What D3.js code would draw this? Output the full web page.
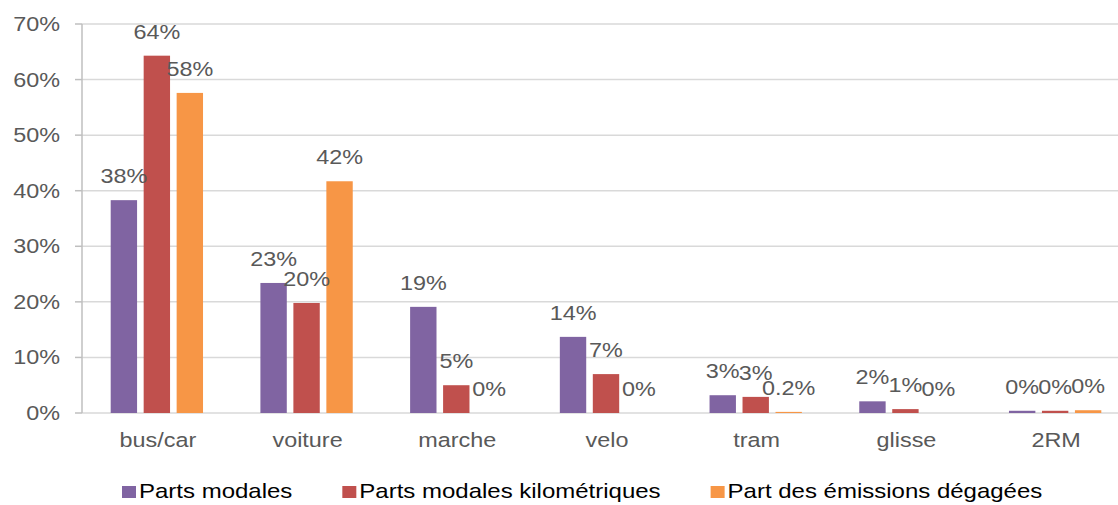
<!DOCTYPE html>
<html>
<head>
<meta charset="utf-8">
<script src="https://cdn.jsdelivr.net/npm/d3@7"></script>
<style>
  body { margin: 0; background: #fff; }
  svg { display: block; font-family: "Liberation Sans", Arial, sans-serif; }
</style>
</head>
<body>
<svg id="chart" width="1118" height="505"></svg>
<script>
// chart data
const categories = ["bus/car", "voiture", "marche", "velo", "tram", "glisse", "2RM"];
const seriesNames = ["Parts modales", "Parts modales kilométriques", "Part des émissions dégagées"];
const partsModales = [0.383, 0.234, 0.191, 0.137, 0.032, 0.021, 0.004];
const partsKm = [0.643, 0.198, 0.050, 0.070, 0.029, 0.007, 0.004];
const partEmissions = [0.576, 0.417, 0.000, 0.000, 0.002, 0.000, 0.005];
const valueLabels = [
  ["38%", "23%", "19%", "14%", "3%", "2%", "0%"],
  ["64%", "20%", "5%", "7%", "3%", "1%", "0%"],
  ["58%", "42%", "0%", "0%", "0.2%", "0%", "0%"]
];
const yTicks = [0, 0.1, 0.2, 0.3, 0.4, 0.5, 0.6, 0.7];
const colors = ["#8064A2", "#C0504D", "#F79646"];

const allSeries = [partsModales, partsKm, partEmissions];
const sx = 1.2; // horizontal stretch of the original picture
const svg = d3.select("#chart");

const x0 = d3.scaleBand().domain(categories).range([82, 1130]).padding(0);
const x1 = d3.scaleBand().domain(d3.range(3)).range([0, x0.bandwidth()])
  .paddingInner(0.2).paddingOuter(0.87);
const y = d3.scaleLinear().domain([0, 0.7]).range([413, 24]);

function stretchedText(g, x, yy, txt, anchor) {
  return g.append("text")
    .attr("transform", `translate(${x},${yy}) scale(${sx},1)`)
    .attr("text-anchor", anchor)
    .text(txt);
}

// gridlines
svg.append("g").selectAll("line").data(yTicks).enter().append("line")
  .attr("x1", 82).attr("x2", 1118)
  .attr("y1", d => y(d)).attr("y2", d => y(d))
  .attr("stroke", "#d9d9d9").attr("stroke-width", 1.5);

// y axis line + ticks
svg.append("line").attr("x1", 82).attr("x2", 82).attr("y1", y(0.7)).attr("y2", y(0))
  .attr("stroke", "#bfbfbf").attr("stroke-width", 1.5);
svg.append("g").selectAll("line").data(yTicks).enter().append("line")
  .attr("x1", 75).attr("x2", 82)
  .attr("y1", d => y(d)).attr("y2", d => y(d))
  .attr("stroke", "#bfbfbf").attr("stroke-width", 1.5);

const yLab = svg.append("g").attr("fill", "#595959").attr("font-size", 19.5);
yTicks.forEach(t => stretchedText(yLab, 60, y(t) + 7, d3.format(".0%")(t), "end"));

// category labels
const xLab = svg.append("g").attr("fill", "#595959").attr("font-size", 19.5);
categories.forEach(c => stretchedText(xLab, x0(c) + x0.bandwidth() / 2 + 1, 447, c, "middle"));

// bars
allSeries.forEach((vals, s) => {
  svg.append("g").selectAll("rect").data(vals).enter().append("rect")
    .attr("x", (d, i) => x0(categories[i]) + x1(s))
    .attr("width", x1.bandwidth())
    .attr("y", d => y(d))
    .attr("height", d => y(0) - y(d))
    .attr("fill", colors[s]);
});

// data labels
const dLab = svg.append("g").attr("fill", "#595959").attr("font-size", 19.5);
allSeries.forEach((vals, s) => {
  vals.forEach((v, i) => {
    const cx = x0(categories[i]) + x1(s) + x1.bandwidth() / 2;
    stretchedText(dLab, cx, y(v) - 17, valueLabels[s][i], "middle");
  });
});

// legend
const legend = svg.append("g").attr("font-size", 20).attr("fill", "#000");
let lx = 122;
seriesNames.forEach((name, s) => {
  legend.append("rect").attr("x", lx).attr("y", 486).attr("width", 14).attr("height", 12)
    .attr("fill", colors[s]);
  const t = stretchedText(legend, lx + 17, 498, name, "start");
  const w = t.node().getComputedTextLength() * sx;
  lx = lx + 17 + w + 50;
});
</script>
</body>
</html>
